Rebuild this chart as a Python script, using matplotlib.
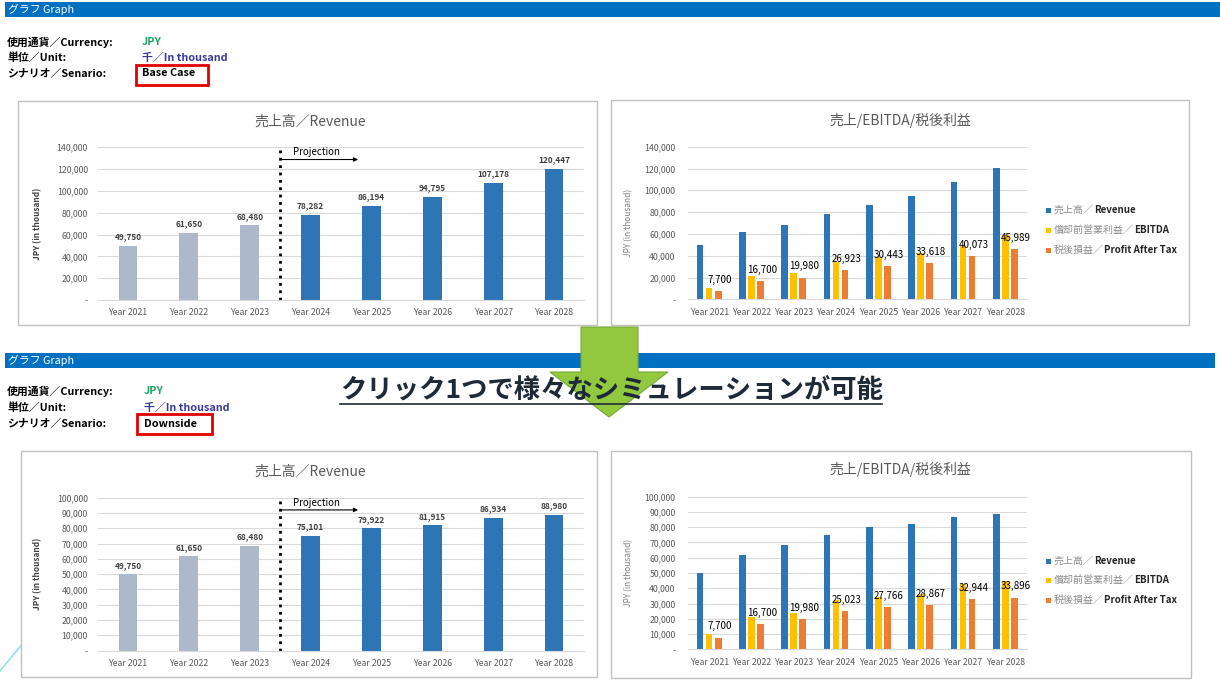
import matplotlib
matplotlib.use("Agg")
import matplotlib.pyplot as plt
from matplotlib.patches import Rectangle, Polygon
from matplotlib.lines import Line2D
from matplotlib.transforms import Affine2D
from matplotlib.ticker import FuncFormatter, MultipleLocator

plt.rcParams['font.family'] = ['Noto Sans CJK JP', 'DejaVu Sans']

# ------------------------------------------------------------
# Data
# ------------------------------------------------------------
years = ["Year 2021", "Year 2022", "Year 2023", "Year 2024",
         "Year 2025", "Year 2026", "Year 2027", "Year 2028"]
actual_years = 3  # first three years are actuals, the rest projection

base_revenue = [49750, 61650, 68480, 78282, 86194, 94795, 107178, 120447]
base_ebitda = [10200, 21600, 24100, 33900, 39100, 42800, 49200, 59000]
base_profit = [7700, 16700, 19980, 26923, 30443, 33618, 40073, 45989]

down_revenue = [49750, 61650, 68480, 75101, 79922, 81915, 86934, 88980]
down_ebitda = [10100, 21400, 24000, 32000, 34500, 36000, 42600, 44800]
down_profit = [7700, 16700, 19980, 25023, 27766, 28867, 32944, 33896]

series_names = [("売上高／", "Revenue"), ("償却前営業利益／", "EBITDA"),
                ("税後損益／", "Profit After Tax")]

BLUE = "#2e75b6"
GREY_BAR = "#adb9ca"
YELLOW = "#ffc000"
ORANGE = "#ed7d31"
TXT = "#595959"

W, H = 1220, 687
fig = plt.figure(figsize=(W / 100, H / 100), dpi=100)
fig.patch.set_facecolor("white")

# pixel coordinates (origin top-left) -> figure
px = Affine2D().scale(1 / W, -1 / H).translate(0, 1) + fig.transFigure


def axes_rect(x0, y0, x1, y1):
    return [x0 / W, 1 - y1 / H, (x1 - x0) / W, (y1 - y0) / H]


def yfmt(v, pos):
    return "-" if v == 0 else f"{v:,.0f}"


def style_axis(ax, ymax, step):
    ax.set_xlim(-0.5, len(years) - 0.5)
    ax.set_ylim(0, ymax)
    ax.yaxis.set_major_locator(MultipleLocator(step))
    ax.yaxis.set_major_formatter(FuncFormatter(yfmt))
    ax.grid(axis="y", color="#d9d9d9", lw=0.8)
    ax.set_axisbelow(True)
    for s in ["top", "right", "left"]:
        ax.spines[s].set_visible(False)
    ax.spines["bottom"].set_color("#d9d9d9")
    ax.set_xticks(range(len(years)), years)
    ax.set_facecolor("none")


def panel(x0, y0, x1, y1):
    fig.add_artist(Rectangle((x0, y0), x1 - x0, y1 - y0, transform=px,
                             facecolor="white", edgecolor="#bfbfbf", lw=1, zorder=-1))


def header(y0, y1, x1):
    fig.add_artist(Rectangle((5, y0), x1 - 5, y1 - y0, transform=px,
                             facecolor="#0070c0", edgecolor="none", zorder=0.5))
    fig.text(8, (y0 + y1) / 2, "グラフ Graph", transform=px, color="white",
             fontsize=7.8, va="center", ha="left")


def info_block(y_rows, value_x, scenario, box):
    labels = ["使用通貨／Currency:", "単位／Unit:", "シナリオ／Senario:"]
    for y, lab in zip(y_rows, labels):
        fig.text(7, y, lab, transform=px, fontsize=7.8, fontweight="bold",
                 va="center", color="black")
    fig.text(value_x, y_rows[0], "JPY", transform=px, fontsize=7.8,
             fontweight="bold", va="center", color="#21a366")
    fig.text(value_x, y_rows[1], "千／In thousand", transform=px, fontsize=7.8,
             fontweight="bold", va="center", color="#3a3aa0")
    fig.text(value_x, y_rows[2], scenario, transform=px, fontsize=7.8,
             fontweight="bold", va="center", color="black")
    bx0, by0, bx1, by1 = box
    fig.add_artist(Rectangle((bx0, by0), bx1 - bx0, by1 - by0, transform=px,
                             facecolor="none", edgecolor="#e00000", lw=2))


def revenue_chart(rect, values, ymax, step, title_xy, ylab_x):
    ax = fig.add_axes(axes_rect(*rect))
    x = list(range(len(years)))
    colors = [GREY_BAR if i < actual_years else BLUE for i in x]
    ax.bar(x, values, width=0.31, color=colors)
    for i, v in enumerate(values):
        ax.annotate(f"{v:,}", (i, v), xytext=(0, 6.5), textcoords="offset points",
                    ha="center", va="center", fontsize=6, fontweight="bold",
                    color="#404040")
    style_axis(ax, ymax, step)
    ax.tick_params(length=0, labelsize=6.3, colors=TXT)
    ax.tick_params(axis="y", pad=7)
    ax.tick_params(axis="x", pad=6)
    ax.axvline(actual_years - 0.5, ymin=0, ymax=0.995, color="black", ls=":", lw=2)
    ax.text(0.401, 0.967, "Projection", transform=ax.transAxes, fontsize=7,
            va="center", ha="left", color="black")
    ax.annotate("", xy=(0.535, 0.92), xytext=(0.379, 0.92), xycoords="axes fraction",
                arrowprops=dict(arrowstyle="-|>", color="black", lw=0.8,
                                mutation_scale=6, shrinkA=0, shrinkB=0))
    ax.set_ylabel("JPY (in thousand)", fontsize=6, fontweight="bold", color="#404040")
    x0, y0, x1, y1 = rect
    ax.yaxis.set_label_coords((ylab_x - x0) / (x1 - x0), 0.5)
    fig.text(title_xy[0], title_xy[1], "売上高／Revenue", transform=px,
             fontsize=10, color=TXT, ha="center", va="center")
    return ax


def compare_chart(rect, revenue, ebitda, profit, ymax, step, title_xy, ylab_x, legend_y):
    ax = fig.add_axes(axes_rect(*rect))
    x = list(range(len(years)))
    w, d = 0.158, 0.213
    ax.bar([i - d for i in x], revenue, width=w, color=BLUE)
    ax.bar(x, ebitda, width=w, color=YELLOW)
    ax.bar([i + d for i in x], profit, width=w, color=ORANGE)
    for i, v in enumerate(profit):
        ax.annotate(f"{v:,}", (i + d, v), xytext=(1, 8), textcoords="offset points",
                    ha="center", va="center", fontsize=7, color="black")
    style_axis(ax, ymax, step)
    ax.tick_params(length=0, labelsize=6.3, colors=TXT)
    ax.tick_params(axis="y", pad=9)
    ax.tick_params(axis="x", pad=6)
    ax.set_ylabel("JPY (in thousand)", fontsize=6, color="#7f7f7f")
    x0, y0, x1, y1 = rect
    ax.yaxis.set_label_coords((ylab_x - x0) / (x1 - x0), 0.5)
    fig.text(title_xy[0], title_xy[1], "売上/EBITDA/税後利益", transform=px,
             fontsize=10, color=TXT, ha="center", va="center")

    renderer = fig.canvas.get_renderer()
    for (jp, en), col, y in zip(series_names, [BLUE, YELLOW, ORANGE], legend_y):
        fig.add_artist(Rectangle((1046, y - 2.5), 5, 5, transform=px,
                                 facecolor=col, edgecolor="none"))
        t1 = fig.text(1054, y, jp, transform=px, fontsize=7.2, color="#8c8c8c",
                      va="center", ha="left")
        bb = t1.get_window_extent(renderer)
        fig.text(bb.x1 / W, 1 - y / H, en, transform=fig.transFigure, fontsize=7,
                 fontweight="bold", color="#262626", va="center", ha="left")
    return ax


# ------------------------------------------------------------
# Top block: Base Case
# ------------------------------------------------------------
header(2, 17, 1220)
info_block([42, 57.5, 73.5], 142, "Base Case", (136, 65, 208, 85))
panel(18, 101, 597, 325)
revenue_chart((97.6, 147.3, 584.4, 300), base_revenue, 140000, 20000, (310, 122), 42)
panel(611, 100, 1189, 325)
compare_chart((688, 146.7, 1026.5, 299.3), base_revenue, base_ebitda, base_profit,
              140000, 20000, (900, 120), 633, [210, 230, 250])

# ------------------------------------------------------------
# Bottom block: Downside
# ------------------------------------------------------------
header(352.5, 368, 1215)
info_block([391.5, 407.5, 424], 144, "Downside", (137, 414, 212, 434))
panel(21, 451, 597, 677)
revenue_chart((97.6, 497.7, 584.4, 650.5), down_revenue, 100000, 10000, (310, 472), 42)
panel(611, 451, 1191, 678)
compare_chart((688, 496.7, 1026.5, 649.3), down_revenue, down_ebitda, down_profit,
              100000, 10000, (900, 469), 633, [561, 580, 600])

# ------------------------------------------------------------
# Arrow and message in the middle
# ------------------------------------------------------------
arrow_pts = [(581, 327), (638, 327), (638, 372), (668, 372), (609, 417),
             (550, 372), (581, 372)]
fig.add_artist(Polygon(arrow_pts, closed=True, transform=px, facecolor="#92c83e",
                       edgecolor="#7aa83a", lw=0.8, zorder=2))
fig.text(340, 390, "クリック1つで様々なシミュレーションが可能", transform=px,
         fontsize=19, fontweight="bold", color="#1f2a38", ha="left", va="center",
         zorder=3)
fig.add_artist(Line2D([340, 882], [404, 404], transform=px, color="#1f2a38",
                      lw=1.2, zorder=3))

# faint decorative line at bottom-left
fig.add_artist(Line2D([0, 24], [671, 642], transform=px, color="#8fe3e8", lw=1.2,
                      zorder=-2))

fig.savefig("out.png", dpi=100)
